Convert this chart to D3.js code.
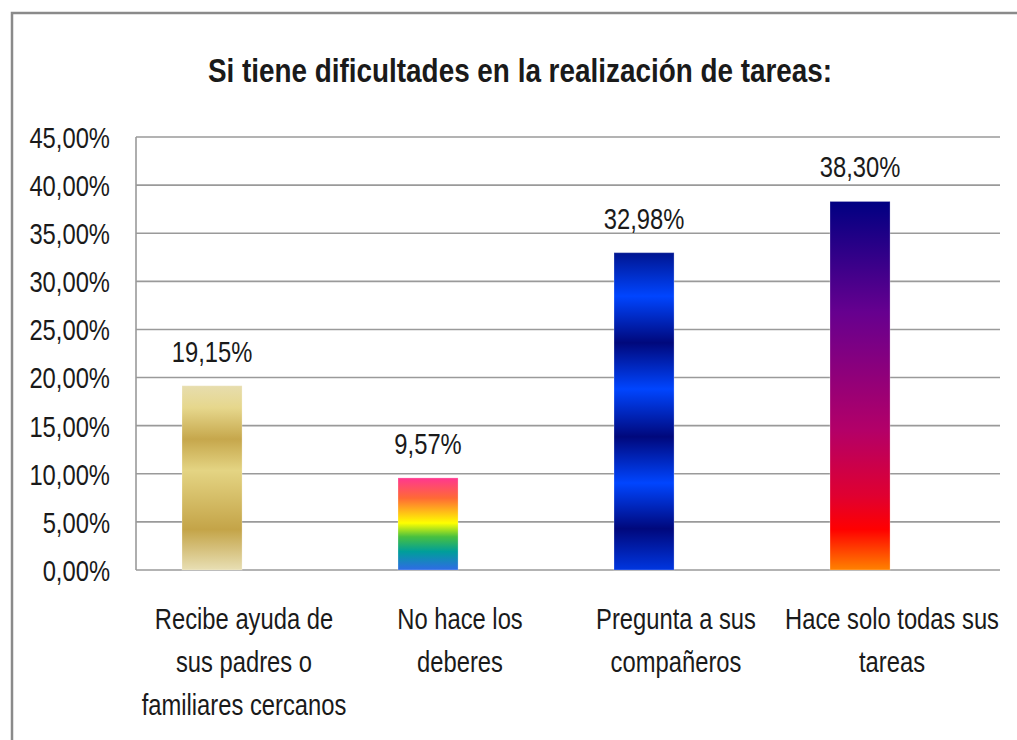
<!DOCTYPE html>
<html>
<head>
<meta charset="utf-8">
<script src="https://cdn.jsdelivr.net/npm/d3@7"></script>
<style>
  html, body { margin: 0; padding: 0; background: #fff; }
  svg { display: block; }
  text { font-family: "Liberation Sans", Arial, sans-serif; fill: #1a1a1a; }
</style>
</head>
<body>
<svg id="chart" width="1017" height="740"></svg>
<script>
// datos del gráfico
const titulo = "Si tiene dificultades en la realización de tareas:";
const categorias = [
  "Recibe ayuda de sus padres o familiares cercanos",
  "No hace los deberes",
  "Pregunta a sus compañeros",
  "Hace solo todas sus tareas"
];
const valores = [19.15, 9.57, 32.98, 38.30];
const ticksY = [0, 5, 10, 15, 20, 25, 30, 35, 40, 45];

// degradados de cada barra (estilo Excel)
const degradados = [
  [[0, "#e7ddae"], [0.12, "#e6d78c"], [0.29, "#c6a74c"], [0.46, "#e4d483"], [0.78, "#c4a448"], [1, "#e8dfb4"]],
  [[0, "#ff3790"], [0.22, "#ff6a35"], [0.49, "#ffff00"], [0.64, "#48c040"], [0.8, "#009e9a"], [1, "#2f6be6"]],
  [[0, "#001590"], [0.137, "#0045ff"], [0.284, "#00087c"], [0.43, "#0045ff"], [0.58, "#00087c"], [0.726, "#0045ff"], [0.87, "#00087c"], [1, "#0036e0"]],
  [[0, "#000082"], [0.3, "#66008f"], [0.62, "#b30068"], [0.8, "#e00030"], [0.89, "#ff0000"], [1, "#ff8200"]]
];

const W = 1017, H = 740;
const M = { left: 136, right: 1000, top: 137, bottom: 570 };
const SX = 0.82; // compresión horizontal (letra estrecha)

const svg = d3.select("#chart");
const defs = svg.append("defs");

degradados.forEach((stops, i) => {
  const g = defs.append("linearGradient").attr("id", "grad" + i)
    .attr("x1", 0).attr("y1", 0).attr("x2", 0).attr("y2", 1);
  stops.forEach(s => g.append("stop").attr("offset", s[0]).attr("stop-color", s[1]));
});

// texto estrecho: se escala solo en horizontal
function texto(parent, tx, ty, size) {
  return parent.append("text")
    .attr("transform", `translate(${tx},${ty}) scale(${SX},1)`)
    .attr("text-anchor", "middle")
    .style("font-size", size + "px");
}

// marco exterior
svg.append("rect")
  .attr("x", 12).attr("y", 13).attr("width", W + 20).attr("height", H + 20)
  .attr("fill", "none").attr("stroke", "#8a8a8a").attr("stroke-width", 2.5);

texto(svg, 520, 82, 34).style("font-weight", "bold").text(titulo);

const x = d3.scaleBand().domain(categorias).range([M.left, M.right]);
const y = d3.scaleLinear().domain([0, 45]).range([M.bottom, M.top]);

const loc = d3.formatLocale({ decimal: ",", thousands: ".", grouping: [3], currency: ["", "€"] });
const fmt = v => loc.format(".2f")(v) + "%";

// rejilla
svg.append("g")
  .selectAll("line").data(ticksY).enter().append("line")
  .attr("x1", M.left).attr("x2", M.right)
  .attr("y1", d => y(d)).attr("y2", d => y(d))
  .attr("stroke", "#9a9a9a").attr("stroke-width", 1.6);

svg.append("line")
  .attr("x1", M.left).attr("x2", M.left).attr("y1", M.top).attr("y2", M.bottom)
  .attr("stroke", "#9a9a9a").attr("stroke-width", 1.6);

// eje Y
const yAxis = svg.append("g")
  .attr("transform", `translate(${M.left},0)`)
  .call(d3.axisLeft(y).tickValues(ticksY).tickSize(0).tickPadding(26).tickFormat(fmt));
yAxis.select(".domain").remove();
yAxis.selectAll("text")
  .style("font-size", "29px").attr("fill", "#1a1a1a")
  .attr("x", -26 / SX).attr("dy", "0.36em")
  .attr("transform", `scale(${SX},1)`);

// barras
const barOff = 0.213, barW = 0.278;
svg.append("g")
  .selectAll("rect").data(valores).enter().append("rect")
  .attr("x", (d, i) => x(categorias[i]) + x.bandwidth() * barOff)
  .attr("width", x.bandwidth() * barW)
  .attr("y", d => y(d))
  .attr("height", d => y(0) - y(d))
  .attr("fill", (d, i) => `url(#grad${i})`)
  .attr("stroke", "rgba(255,255,255,0.25)").attr("stroke-width", 1);

// etiquetas de valor
const gVal = svg.append("g");
valores.forEach((v, i) => {
  texto(gVal, x(categorias[i]) + x.bandwidth() * (barOff + barW / 2), y(v) - 24, 29).text(fmt(v));
});

// etiquetas de categoría con ajuste de línea
function partir(cadena, ancho, size) {
  const palabras = cadena.split(" ");
  const medida = svg.append("text").style("font-size", size + "px");
  const lineas = [];
  let actual = "";
  palabras.forEach(p => {
    const prueba = actual ? actual + " " + p : p;
    medida.text(prueba);
    if (medida.node().getComputedTextLength() * SX > ancho && actual) {
      lineas.push(actual);
      actual = p;
    } else {
      actual = prueba;
    }
  });
  lineas.push(actual);
  medida.remove();
  return lineas;
}

const gCat = svg.append("g");
categorias.forEach(c => {
  const t = texto(gCat, x(c) + x.bandwidth() / 2, 629, 29);
  partir(c, x.bandwidth(), 29).forEach((l, j) => {
    t.append("tspan").attr("x", 0).attr("dy", j ? 43 : 0).text(l);
  });
});
</script>
</body>
</html>
